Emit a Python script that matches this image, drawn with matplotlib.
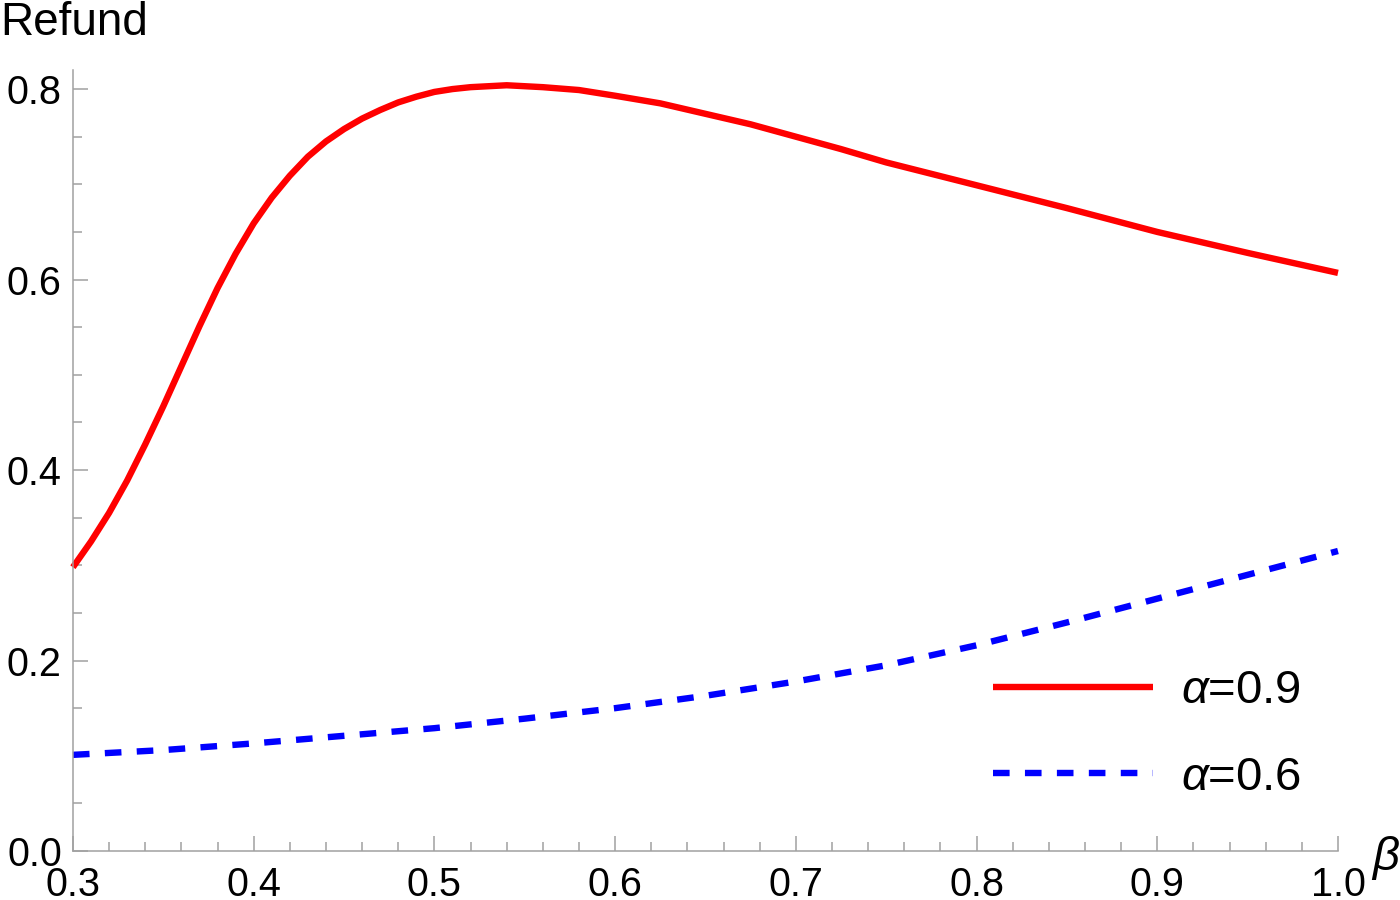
import matplotlib
matplotlib.use("Agg")
import matplotlib.pyplot as plt
from matplotlib.ticker import MultipleLocator, FormatStrFormatter

plt.rcParams['font.family'] = ['Liberation Sans', 'DejaVu Sans']
plt.rcParams['mathtext.fontset'] = 'custom'
plt.rcParams['mathtext.it'] = 'Liberation Sans:italic'
plt.rcParams['mathtext.rm'] = 'Liberation Sans'

# values
beta_red = [0.30, 0.31, 0.32, 0.33, 0.34, 0.35, 0.36, 0.37, 0.38, 0.39, 0.40, 0.41, 0.42,
            0.43, 0.44, 0.45, 0.46, 0.47, 0.48, 0.49, 0.50, 0.51, 0.52, 0.53, 0.54, 0.55,
            0.56, 0.58, 0.60, 0.625, 0.65, 0.675, 0.70, 0.725, 0.75, 0.775, 0.80, 0.85,
            0.90, 0.95, 1.00]
refund_09 = [0.298, 0.325, 0.355, 0.389, 0.427, 0.467, 0.509, 0.551, 0.591, 0.627, 0.659,
             0.686, 0.709, 0.729, 0.745, 0.758, 0.769, 0.778, 0.786, 0.792, 0.797, 0.800,
             0.802, 0.803, 0.804, 0.803, 0.802, 0.799, 0.793, 0.785, 0.774, 0.763, 0.750,
             0.737, 0.723, 0.711, 0.699, 0.675, 0.650, 0.628, 0.607]

beta_blue = [0.30, 0.35, 0.40, 0.45, 0.50, 0.55, 0.60, 0.65, 0.70, 0.75, 0.80, 0.85, 0.90, 0.95, 1.00]
refund_06 = [0.101, 0.106, 0.113, 0.121, 0.129, 0.139, 0.150, 0.163, 0.178, 0.195, 0.216, 0.240,
             0.265, 0.290, 0.315]

labels = [r'$\alpha$=0.9', r'$\alpha$=0.6']

gray = '#a0a0a0'

fig = plt.figure(figsize=(14, 9), dpi=100)
ax = fig.add_axes([0.0521, 0.0544, 0.9036, 0.8678])

ax.plot(beta_red, refund_09, color='#ff0000', lw=4.6, label=labels[0], clip_on=False,
        solid_capstyle='butt', solid_joinstyle='round')
ax.plot(beta_blue, refund_06, color='#0000ff', lw=4.6, dashes=(2.6, 2.4), label=labels[1],
        clip_on=False)

ax.set_xlim(0.3, 1.0)
ax.set_ylim(0, 0.82)

for s in ['top', 'right']:
    ax.spines[s].set_visible(False)
for s in ['left', 'bottom']:
    ax.spines[s].set_color(gray)
    ax.spines[s].set_linewidth(1.1)

ax.xaxis.set_major_locator(MultipleLocator(0.1))
ax.xaxis.set_minor_locator(MultipleLocator(0.02))
ax.yaxis.set_major_locator(MultipleLocator(0.2))
ax.yaxis.set_minor_locator(MultipleLocator(0.05))
ax.xaxis.set_major_formatter(FormatStrFormatter('%.1f'))
ax.yaxis.set_major_formatter(FormatStrFormatter('%.1f'))

ax.tick_params(which='both', direction='in', color=gray, width=1.1, labelsize=28.5)
ax.tick_params(which='major', length=10.5)
ax.tick_params(which='minor', length=6.3)
ax.tick_params(axis='x', pad=11)
ax.tick_params(axis='y', pad=8)

fig.text(0.0, 0.961, 'Refund', fontsize=33, ha='left', va='baseline')
ax.annotate(r'$\beta$', xy=(1, 0), xycoords='axes fraction', xytext=(24, -5),
            textcoords='offset points', fontsize=34, ha='left', va='center',
            annotation_clip=False)

leg = ax.legend(loc='center left', bbox_to_anchor=(0.709, 0.1839),
                bbox_transform=fig.transFigure, frameon=False, fontsize=34,
                handlelength=3.4, handletextpad=0.6, labelspacing=0.9,
                borderpad=0, borderaxespad=0)

fig.savefig('out.png', dpi=100)
